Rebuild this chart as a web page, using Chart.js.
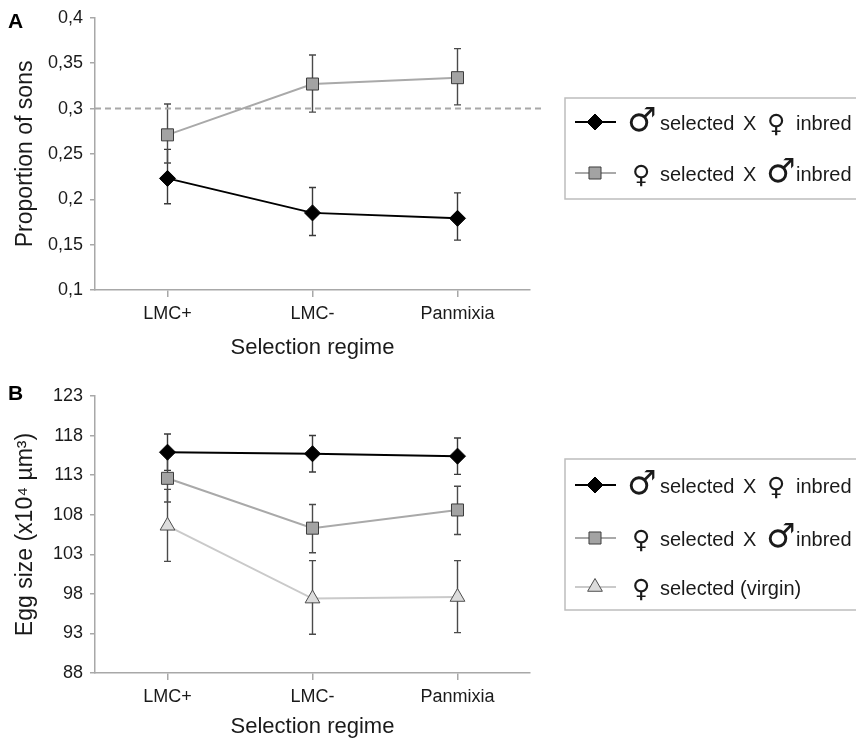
<!DOCTYPE html>
<html>
<head>
<meta charset="utf-8">
<script src="https://cdn.jsdelivr.net/npm/chart.js@4.4.1/dist/chart.umd.min.js"></script>
<style>
  html, body { margin: 0; padding: 0; background: #fff; }
  #wrap  { position: relative; width: 856px; height: 742px; overflow: hidden; }
  .panel { position: absolute; left: 0; width: 856px; }
</style>
</head>
<body>
<div id="wrap">
  <div class="panel" style="top:0;height:370px"><canvas id="chartA" width="856" height="370"></canvas></div>
  <div class="panel" style="top:370px;height:372px"><canvas id="chartB" width="856" height="372"></canvas></div>
</div>
<script>
'use strict';

/* ── DATA ── */
const CATEGORIES = ['LMC+', 'LMC-', 'Panmixia'];

/* Panel A: proportion of sons */
const A_MALE_SEL      = [0.223, 0.185, 0.179];
const A_MALE_SEL_LO   = [0.195, 0.160, 0.155];
const A_MALE_SEL_HI   = [0.255, 0.213, 0.207];
const A_FEMALE_SEL    = [0.271, 0.327, 0.334];
const A_FEMALE_SEL_LO = [0.240, 0.296, 0.304];
const A_FEMALE_SEL_HI = [0.305, 0.359, 0.366];
const A_REF_LINE      = 0.3;
const A_TICKS         = [0.1, 0.15, 0.2, 0.25, 0.3, 0.35, 0.4];
const A_TICK_LABELS   = ['0,1', '0,15', '0,2', '0,25', '0,3', '0,35', '0,4'];

/* Panel B: egg size (x10^4 µm^3) */
const B_MALE_SEL      = [115.9, 115.7, 115.4];
const B_MALE_SEL_LO   = [113.6, 113.4, 113.1];
const B_MALE_SEL_HI   = [118.2, 118.0, 117.7];
const B_FEMALE_SEL    = [112.6, 106.3, 108.6];
const B_FEMALE_SEL_LO = [109.6, 103.2, 105.5];
const B_FEMALE_SEL_HI = [115.6, 109.3, 111.6];
const B_VIRGIN        = [106.6, 97.4, 97.6];
const B_VIRGIN_LO     = [102.1, 92.9, 93.1];
const B_VIRGIN_HI     = [111.2, 102.2, 102.2];
const B_TICKS         = [88, 93, 98, 103, 108, 113, 118, 123];
const B_TICK_LABELS   = ['88', '93', '98', '103', '108', '113', '118', '123'];

/* ── STYLES ── */
const FONT     = '"Liberation Sans", Arial, sans-serif';
const SYM_FONT = '"DejaVu Sans", sans-serif';
const TXT      = '#1a1a1a';
const AXIS     = '#a8a8a8';

Chart.defaults.font.family = FONT;
Chart.defaults.color = TXT;

const STYLE_MALE = {
  borderColor: '#000', borderWidth: 2,
  pointStyle: 'rectRot', pointRadius: 8,
  pointBackgroundColor: '#000', pointBorderColor: '#000', pointBorderWidth: 1,
  errColor: '#3a3a3a'
};
const STYLE_FEMALE = {
  borderColor: '#a9a9a9', borderWidth: 2,
  pointStyle: 'rect', pointRadius: 8.5,
  pointBackgroundColor: '#a3a3a3', pointBorderColor: '#3c3c3c', pointBorderWidth: 1,
  errColor: '#4a4a4a'
};
const STYLE_VIRGIN = {
  borderColor: '#cacaca', borderWidth: 2,
  pointStyle: 'triangle', pointRadius: 8.5,
  pointBackgroundColor: '#dcdcdc', pointBorderColor: '#4d4d4d', pointBorderWidth: 1,
  errColor: '#4a4a4a'
};

/* ── PLUGINS ── */
const errorBars = {
  id: 'errorBars',
  beforeDatasetsDraw(chart) {
    const ctx = chart.ctx;
    const ys  = chart.scales.y;
    chart.data.datasets.forEach((ds, i) => {
      const meta = chart.getDatasetMeta(i);
      ctx.save();
      ctx.strokeStyle = ds.errColor;
      ctx.lineWidth = 1.4;
      meta.data.forEach((pt, j) => {
        const y1 = ys.getPixelForValue(ds.errLow[j]);
        const y2 = ys.getPixelForValue(ds.errHigh[j]);
        ctx.beginPath();
        ctx.moveTo(pt.x, y1); ctx.lineTo(pt.x, y2);
        ctx.moveTo(pt.x - 3.5, y1); ctx.lineTo(pt.x + 3.5, y1);
        ctx.moveTo(pt.x - 3.5, y2); ctx.lineTo(pt.x + 3.5, y2);
        ctx.stroke();
      });
      ctx.restore();
    });
  }
};

const refLine = {
  id: 'refLine',
  beforeDatasetsDraw(chart, args, opts) {
    if (opts.value == null) return;
    const ctx = chart.ctx;
    const y = chart.scales.y.getPixelForValue(opts.value);
    ctx.save();
    ctx.strokeStyle = '#a8a8a8';
    ctx.lineWidth = 2;
    ctx.setLineDash([6, 4]);
    ctx.beginPath();
    ctx.moveTo(chart.chartArea.left, y);
    ctx.lineTo(chart.chartArea.right + 12, y);
    ctx.stroke();
    ctx.restore();
  }
};

/* panel letter + boxed legend with sex symbols */
const figLegend = {
  id: 'figLegend',
  afterDraw(chart, args, opts) {
    const ctx = chart.ctx;
    ctx.save();
    ctx.fillStyle = '#000';
    ctx.font = 'bold 21px ' + FONT;
    ctx.textBaseline = 'alphabetic';
    ctx.fillText(opts.letter, 8, opts.letterY);

    const b = opts.box;
    ctx.strokeStyle = '#bdbdbd';
    ctx.lineWidth = 1.5;
    ctx.strokeRect(b.x, b.y, b.w, b.h);

    opts.rows.forEach((row, r) => {
      const ds = chart.data.datasets[row.ds];
      const y  = opts.rowY[r];
      ctx.strokeStyle = ds.borderColor;
      ctx.lineWidth = ds.borderWidth;
      ctx.beginPath();
      ctx.moveTo(575, y); ctx.lineTo(616, y);
      ctx.stroke();
      ctx.fillStyle = ds.pointBackgroundColor;
      ctx.strokeStyle = ds.pointBorderColor;
      ctx.lineWidth = ds.pointBorderWidth;
      Chart.helpers.drawPoint(ctx, {
        pointStyle: ds.pointStyle, radius: ds.pointRadius, rotation: 0,
        borderWidth: ds.pointBorderWidth
      }, 595, y);

      ctx.fillStyle = TXT;
      row.tokens.forEach(tk => {
        if (tk.t === '♂') ctx.font = '33px ' + SYM_FONT;
        else if (tk.t === '♀') ctx.font = '25px ' + SYM_FONT;
        else ctx.font = '20px ' + FONT;
        ctx.fillText(tk.t, tk.x, y + 8 + (tk.dy || 0));
      });
    });
    ctx.restore();
  }
};

/* legend rows: text tokens with their x positions */
const ROW_MALE_SEL = [
  { t: '♂', x: 627, dy: 1 }, { t: 'selected', x: 660 }, { t: 'X', x: 743 },
  { t: '♀', x: 767, dy: 2 }, { t: 'inbred', x: 796 }
];
const ROW_FEMALE_SEL = [
  { t: '♀', x: 632, dy: 2 }, { t: 'selected', x: 660 }, { t: 'X', x: 743 },
  { t: '♂', x: 766, dy: 1 }, { t: 'inbred', x: 796 }
];
const ROW_VIRGIN = [
  { t: '♀', x: 632, dy: 2 }, { t: 'selected (virgin)', x: 660 }
];

/* ── CHART BUILDER ── */
function makeChart(id, p) {
  return new Chart(document.getElementById(id), {
    type: 'line',
    data: { labels: CATEGORIES, datasets: p.datasets },
    options: {
      responsive: false,
      animation: false,
      layout: { padding: { left: 0, right: 326, top: p.top, bottom: 0 } },
      plugins: {
        legend: { display: false },
        tooltip: { enabled: false },
        refLine: { value: p.ref },
        figLegend: p.legend
      },
      scales: {
        x: {
          type: 'category',
          offset: true,
          afterFit: s => { s.height = p.xHeight; },
          border: { display: true, color: AXIS, width: 1.5 },
          grid: { drawOnChartArea: false, drawTicks: true, tickLength: 7, color: AXIS, lineWidth: 1.5, offset: false },
          ticks: { font: { size: 18 }, color: TXT, padding: 6, maxRotation: 0 },
          title: { display: true, text: 'Selection regime', font: { size: 22 }, color: TXT,
                   padding: { top: 0, bottom: p.xTitlePad } }
        },
        y: {
          min: p.ticks[0],
          max: p.ticks[p.ticks.length - 1],
          afterFit: s => { s.width = 95; },
          afterBuildTicks: s => { s.ticks = p.ticks.map(v => ({ value: v })); },
          border: { display: true, color: AXIS, width: 1.5 },
          grid: { drawOnChartArea: false, drawTicks: true, tickLength: 5, color: AXIS, lineWidth: 1.5 },
          ticks: { font: { size: 18 }, color: TXT, padding: 7,
                   callback: (v, i) => p.tickLabels[i] },
          title: { display: true, text: p.yTitle, font: { size: 23 }, color: TXT,
                   padding: { top: 12, bottom: 0 } }
        }
      }
    },
    plugins: [errorBars, refLine, figLegend]
  });
}

function series(label, data, lo, hi, style) {
  return Object.assign({ label, data, errLow: lo, errHigh: hi, tension: 0, fill: false }, style);
}

makeChart('chartA', {
  top: 17, xHeight: 80, xTitlePad: 9,
  ticks: A_TICKS, tickLabels: A_TICK_LABELS, ref: A_REF_LINE,
  yTitle: 'Proportion of sons',
  datasets: [
    series('♂ selected X ♀ inbred', A_MALE_SEL, A_MALE_SEL_LO, A_MALE_SEL_HI, STYLE_MALE),
    series('♀ selected X ♂ inbred', A_FEMALE_SEL, A_FEMALE_SEL_LO, A_FEMALE_SEL_HI, STYLE_FEMALE)
  ],
  legend: {
    letter: 'A', letterY: 28,
    box: { x: 565, y: 98, w: 330, h: 101 },
    rowY: [122, 173],
    rows: [ { ds: 0, tokens: ROW_MALE_SEL }, { ds: 1, tokens: ROW_FEMALE_SEL } ]
  }
});

makeChart('chartB', {
  top: 26, xHeight: 69, xTitlePad: 2,
  ticks: B_TICKS, tickLabels: B_TICK_LABELS, ref: null,
  yTitle: 'Egg size (x10⁴ µm³)',
  datasets: [
    series('♂ selected X ♀ inbred', B_MALE_SEL, B_MALE_SEL_LO, B_MALE_SEL_HI, STYLE_MALE),
    series('♀ selected X ♂ inbred', B_FEMALE_SEL, B_FEMALE_SEL_LO, B_FEMALE_SEL_HI, STYLE_FEMALE),
    series('♀ selected (virgin)', B_VIRGIN, B_VIRGIN_LO, B_VIRGIN_HI, STYLE_VIRGIN)
  ],
  legend: {
    letter: 'B', letterY: 30,
    box: { x: 565, y: 89, w: 330, h: 151 },
    rowY: [115, 168, 217],
    rows: [ { ds: 0, tokens: ROW_MALE_SEL }, { ds: 1, tokens: ROW_FEMALE_SEL }, { ds: 2, tokens: ROW_VIRGIN } ]
  }
});
</script>
</body>
</html>
